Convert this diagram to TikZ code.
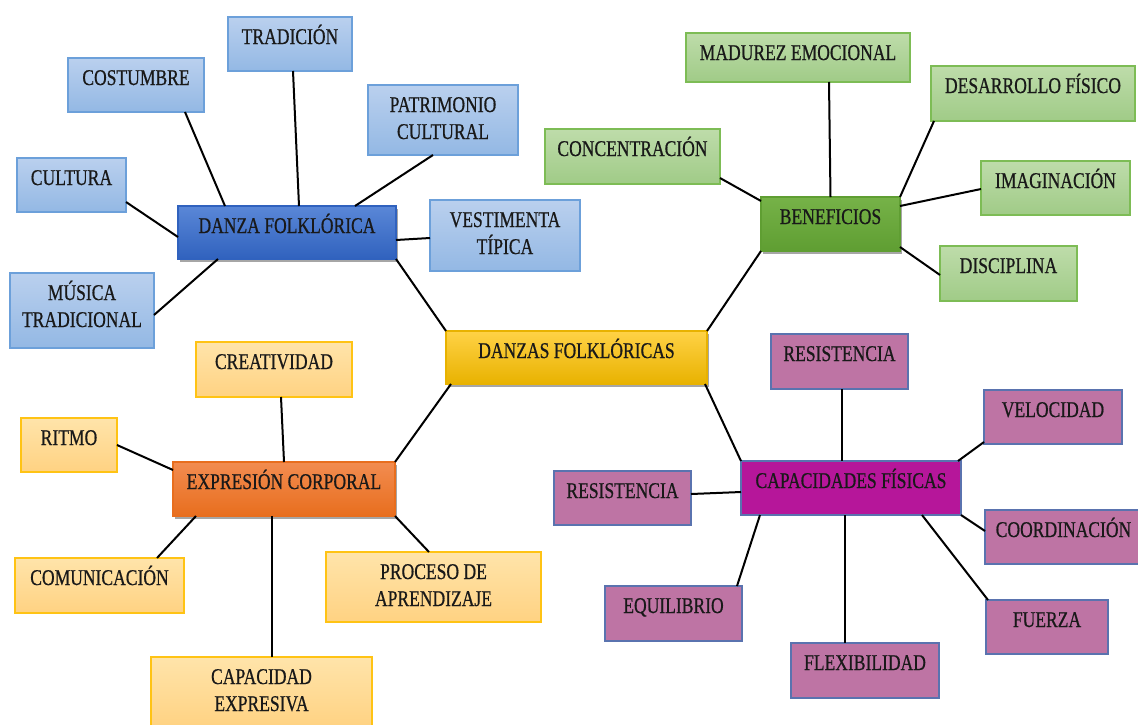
\documentclass[tikz,border=0pt]{standalone}
\usepackage{fontspec}
\setmainfont{Liberation Serif}[FakeStretch=0.78,FakeBold=0.6]
\usetikzlibrary{shadows}
\definecolor{bluetop}{RGB}{186,208,238}
\definecolor{bluebot}{RGB}{147,184,228}
\definecolor{bluebd}{RGB}{108,160,218}
\definecolor{dftop}{RGB}{90,135,215}
\definecolor{dfbot}{RGB}{48,98,190}
\definecolor{greentop}{RGB}{190,220,170}
\definecolor{greenbot}{RGB}{160,203,135}
\definecolor{greenbd}{RGB}{125,188,85}
\definecolor{bentop}{RGB}{118,178,72}
\definecolor{benbot}{RGB}{95,158,50}
\definecolor{ortop}{RGB}{255,228,170}
\definecolor{orbot}{RGB}{255,210,130}
\definecolor{orbd}{RGB}{255,195,20}
\definecolor{exptop}{RGB}{242,140,80}
\definecolor{expbot}{RGB}{232,110,30}
\definecolor{dztop}{RGB}{255,210,70}
\definecolor{dzbot}{RGB}{232,178,0}
\definecolor{purp}{RGB}{190,116,164}
\definecolor{purpbd}{RGB}{90,115,175}
\definecolor{capc}{RGB}{182,22,154}
\newcommand\bxnode[7]{%
  \node[#2] (#1) at ({((#3)+(#5))/2},{((#4)+(#6))/2})
  {\parbox[c][\dimexpr#6pt-#4pt\relax][t]{\dimexpr#5pt-#3pt\relax}{\centering\rule{0pt}{27pt}#7}};}
\tikzset{
  box/.style={rectangle, inner sep=0pt, outer sep=0pt, line width=1.2pt, text=black!90,
    font=\fontsize{22.5}{27}\selectfont},
  bluebox/.style={box, draw=bluebd, top color=bluetop, bottom color=bluebot},
  greenbox/.style={box, draw=greenbd, top color=greentop, bottom color=greenbot},
  orbox/.style={box, draw=orbd, top color=ortop, bottom color=orbot},
  purpbox/.style={box, draw=purpbd, fill=purp},
  mainshadow/.style={drop shadow={shadow xshift=1.5pt, shadow yshift=-3pt, opacity=0.35, fill=black}},
  dfbox/.style={box, mainshadow, draw=dfbot, top color=dftop, bottom color=dfbot},
  benbox/.style={box, mainshadow, draw=benbot, top color=bentop, bottom color=benbot},
  expbox/.style={box, mainshadow, draw=expbot, top color=exptop, bottom color=expbot},
  dzbox/.style={box, mainshadow, draw=dzbot, top color=dztop, bottom color=dzbot},
  capbox/.style={box, draw=purpbd, fill=capc},
  conn/.style={line width=2pt, black}
}
\begin{document}
\begin{tikzpicture}[x=1pt,y=-1pt]
\useasboundingbox (0,0) rectangle (1138,724);
% blue group
\bxnode{trad}{bluebox}{228}{17}{352}{71}{TRADICIÓN}
\bxnode{cos}{bluebox}{68}{58}{204}{112}{COSTUMBRE}
\bxnode{pat}{bluebox}{368}{85}{518}{155}{PATRIMONIO\\CULTURAL}
\bxnode{cul}{bluebox}{17}{158}{126}{212}{CULTURA}
\bxnode{vest}{bluebox}{430}{200}{580}{271}{VESTIMENTA\\TÍPICA}
\bxnode{mus}{bluebox}{10}{273}{154}{348}{MÚSICA\\TRADICIONAL}
\bxnode{df}{dfbox}{178}{206}{396}{259}{DANZA FOLKLÓRICA}
% green group
\bxnode{mad}{greenbox}{686}{33}{910}{82}{MADUREZ EMOCIONAL}
\bxnode{des}{greenbox}{931}{66}{1135}{121}{DESARROLLO FÍSICO}
\bxnode{con}{greenbox}{545}{129}{720}{184}{CONCENTRACIÓN}
\bxnode{ima}{greenbox}{981}{161}{1130}{215}{IMAGINACIÓN}
\bxnode{dis}{greenbox}{940}{246}{1077}{301}{DISCIPLINA}
\bxnode{ben}{benbox}{761}{197}{900}{251}{BENEFICIOS}
% centre
\bxnode{dz}{dzbox}{446}{331}{707}{384}{DANZAS FOLKLÓRICAS}
% orange group
\bxnode{cre}{orbox}{196}{342}{352}{397}{CREATIVIDAD}
\bxnode{rit}{orbox}{21}{418}{117}{472}{RITMO}
\bxnode{com}{orbox}{15}{558}{184}{613}{COMUNICACIÓN}
\bxnode{pro}{orbox}{326}{552}{541}{622}{PROCESO DE\\APRENDIZAJE}
\bxnode{capx}{orbox}{151}{657}{372}{728}{CAPACIDAD\\EXPRESIVA}
\bxnode{exp}{expbox}{173}{462}{395}{516}{EXPRESIÓN CORPORAL}
% purple group
\bxnode{rt}{purpbox}{771}{334}{908}{389}{RESISTENCIA}
\bxnode{vel}{purpbox}{984}{390}{1122}{444}{VELOCIDAD}
\bxnode{rl}{purpbox}{554}{471}{691}{525}{RESISTENCIA}
\bxnode{coo}{purpbox}{985}{510}{1142}{564}{COORDINACIÓN}
\bxnode{equ}{purpbox}{605}{586}{742}{641}{EQUILIBRIO}
\bxnode{fue}{purpbox}{986}{600}{1108}{654}{FUERZA}
\bxnode{fle}{purpbox}{791}{643}{939}{698}{FLEXIBILIDAD}
\bxnode{cap}{capbox}{741}{461}{961}{515}{CAPACIDADES FÍSICAS}
% connectors: blue
\draw[conn] ([xshift=-19pt]cos.south east) -- ([xshift=47pt]df.north west);
\draw[conn] ([xshift=3pt]trad.south) -- ([xshift=12pt]df.north);
\draw[conn] ([xshift=-10pt]pat.south) -- ([xshift=-41pt]df.north east);
\draw[conn] ([yshift=10pt]cul.south east) -- ([yshift=-4.5pt]df.west);
\draw[conn] ([yshift=-2.5pt]vest.west) -- ([yshift=-7.5pt]df.east);
\draw[conn] ([yshift=-4.5pt]mus.east) -- ([xshift=40pt]df.south west);
\draw[conn] (df.south east) -- (dz.north west);
% green
\draw[conn] ([xshift=31pt]mad.south) -- (ben.north);
\draw[conn] ([yshift=6pt]con.south east) -- ([yshift=-4pt]ben.north west);
\draw[conn] ([xshift=3pt]des.south west) -- (ben.north east);
\draw[conn] ([yshift=-1pt]ima.west) -- ([yshift=-9pt]ben.north east);
\draw[conn] ([yshift=-1.5pt]dis.west) -- ([yshift=4pt]ben.south east);
\draw[conn] (ben.south west) -- (dz.north east);
% orange
\draw[conn] ([xshift=5pt]dz.south west) -- (exp.north east);
\draw[conn] ([xshift=7pt]cre.south) -- (exp.north);
\draw[conn] (rit.east) -- ([yshift=-8pt]exp.north west);
\draw[conn] ([xshift=-27pt]com.north east) -- ([xshift=23pt]exp.south west);
\draw[conn] ([xshift=10.5pt]capx.north) -- ([xshift=-12pt]exp.south);
\draw[conn] ([xshift=-4.5pt]pro.north) -- (exp.south east);
% purple
\draw[conn] ([xshift=-2pt]dz.south east) -- (cap.north west);
\draw[conn] ([xshift=2.5pt]rt.south) -- ([xshift=-9pt]cap.north);
\draw[conn] ([yshift=2pt]vel.south west) -- ([xshift=-3pt]cap.north east);
\draw[conn] ([yshift=4pt]rl.east) -- ([yshift=-4pt]cap.west);
\draw[conn] ([yshift=6pt]coo.west) -- (cap.south east);
\draw[conn] ([xshift=-5pt]equ.north east) -- ([xshift=19pt]cap.south west);
\draw[conn] ([xshift=-20pt]fle.north) -- ([xshift=-6pt]cap.south);
\draw[conn] ([xshift=2pt]fue.north west) -- ([xshift=-39pt]cap.south east);
\end{tikzpicture}
\end{document}
